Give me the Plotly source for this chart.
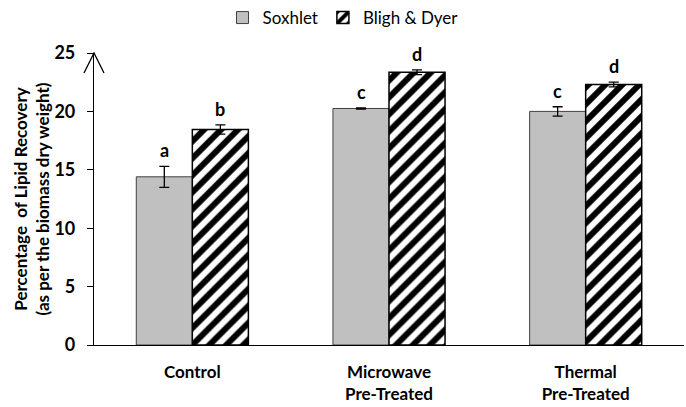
import plotly.graph_objects as go

# Recuperação de lipídios por método de extração
categorias = ["Control", "Microwave<br>Pre-Treated", "Thermal<br>Pre-Treated"]
soxhlet = [14.4, 20.25, 20.0]
soxhlet_erro = [0.9, 0.05, 0.4]
bligh_dyer = [18.45, 23.35, 22.3]
bligh_dyer_erro = [0.4, 0.2, 0.2]
letras_soxhlet = ["a", "c", "c"]
letras_bligh = ["b", "d", "d"]

fonte = "Lato"

fig = go.Figure()

fig.add_trace(go.Bar(
    name="Soxhlet",
    x=categorias,
    y=soxhlet,
    marker=dict(color="#c0c0c0", line=dict(color="#404040", width=1)),
    error_y=dict(type="data", array=soxhlet_erro, color="black",
                 thickness=1.3, width=5),
))

fig.add_trace(go.Bar(
    name="Bligh & Dyer",
    x=categorias,
    y=bligh_dyer,
    marker=dict(
        color="white",
        line=dict(color="black", width=1.5),
        pattern=dict(shape="/", fgcolor="black", bgcolor="white",
                     fgopacity=1, size=12, solidity=0.5),
    ),
    error_y=dict(type="data", array=bligh_dyer_erro, color="black",
                 thickness=1.3, width=5),
))

# Letras de significância acima das barras de erro
for cat, v, e, letra in zip(categorias, soxhlet, soxhlet_erro, letras_soxhlet):
    fig.add_annotation(x=cat, y=v + e, text=letra, showarrow=False,
                       xshift=-28, yshift=3, yanchor="bottom",
                       font=dict(family=fonte, size=18, color="black",
                                 weight="bold"))
for cat, v, e, letra in zip(categorias, bligh_dyer, bligh_dyer_erro, letras_bligh):
    fig.add_annotation(x=cat, y=v + e, text=letra, showarrow=False,
                       xshift=28, yshift=3, yanchor="bottom",
                       font=dict(family=fonte, size=18, color="black",
                                 weight="bold"))

# Seta no topo do eixo y
fig.add_shape(type="path", xref="paper", yref="paper",
              xsizemode="pixel", ysizemode="pixel", xanchor=0, yanchor=1,
              path="M-10,-20 L0,0 L10,-20",
              line=dict(color="black", width=1.3))

fig.update_layout(
    width=686,
    height=407,
    barmode="group",
    bargap=0.43,
    bargroupgap=0,
    plot_bgcolor="white",
    paper_bgcolor="white",
    margin=dict(l=94, r=2, t=53, b=62, autoexpand=False),
    font=dict(family=fonte, color="black"),
    legend=dict(orientation="h", x=0.5, xanchor="center", xref="container",
                y=1.0, yanchor="top", yref="container", itemwidth=30,
                font=dict(family=fonte, size=17), traceorder="normal"),
    xaxis=dict(range=[-0.5, 2.5], showline=True, linecolor="black",
               linewidth=1.2, ticks="", ticklabelstandoff=11,
               automargin=False,
               tickfont=dict(family=fonte, size=17, weight="bold")),
    yaxis=dict(range=[0, 25], tickvals=[0, 5, 10, 15, 20, 25],
               showline=True, linecolor="black", linewidth=1.2,
               ticks="outside", ticklen=6, tickcolor="black",
               ticklabelstandoff=8,
               showgrid=False, zeroline=False, automargin=False,
               tickfont=dict(family=fonte, size=18, weight="bold"),
               title=dict(text="Percentage  of Lipid Recovery<br>(as per the biomass dry weight)",
                          font=dict(family=fonte, size=17, weight="bold"),
                          standoff=0)),
)

# tira a margem padrão da página para a figura ocupar a janela inteira
fig.write_html("out.html", config={"displayModeBar": False},
               post_script="document.body.style.margin='0';")
